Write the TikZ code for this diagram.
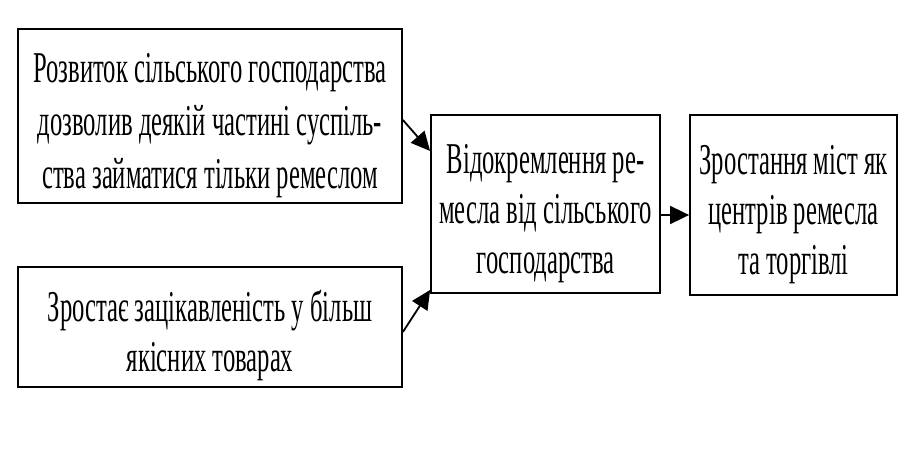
\documentclass[tikz,border=0pt]{standalone}
\usepackage{fontspec}
\setmainfont{Liberation Serif}[FakeStretch=0.56]
\usetikzlibrary{arrows.meta}
\newcommand\topstrut{\rule{0pt}{48pt}}
\begin{document}
\begin{tikzpicture}[x=1pt,y=-1pt,
  box/.style={draw,line width=1.8pt,inner sep=0pt,align=center,
    font=\fontsize{44}{50}\selectfont},
  conn/.style={line width=1.8pt,-{Triangle[length=19pt,width=18pt]}}]
\useasboundingbox (0,0) rectangle (922,458);
\node[box,minimum width=384pt,minimum height=174pt,
  font=\fontsize{44}{53}\selectfont] (A) at (210,116)
  {\topstrut Розвиток сільського господарства\\дозволив деякій частині суспіль-\\ства займатися тільки ремеслом};
\node[box,minimum width=384pt,minimum height=120pt] (B) at (210,327)
  {\topstrut Зростає зацікавленість у більш\\якісних товарах};
\node[box,minimum width=229pt,minimum height=178pt] (C) at (545.5,204)
  {\topstrut Відокремлення ре-\\месла від сільського\\господарства};
\node[box,minimum width=207pt,minimum height=180pt] (D) at (793.5,205)
  {\topstrut Зростання міст як\\центрів ремесла\\та торгівлі};
\coordinate (a1) at (A.east |- 0,120);
\coordinate (c1) at (C.west |- 0,151);
\coordinate (b1) at (B.east |- 0,332);
\coordinate (c2) at (C.west |- 0,290);
\draw[conn] (a1) -- (c1);
\draw[conn] (b1) -- (c2);
\draw[conn] (C.east |- 0,215) -- (D.west |- 0,215);
\end{tikzpicture}
\end{document}
